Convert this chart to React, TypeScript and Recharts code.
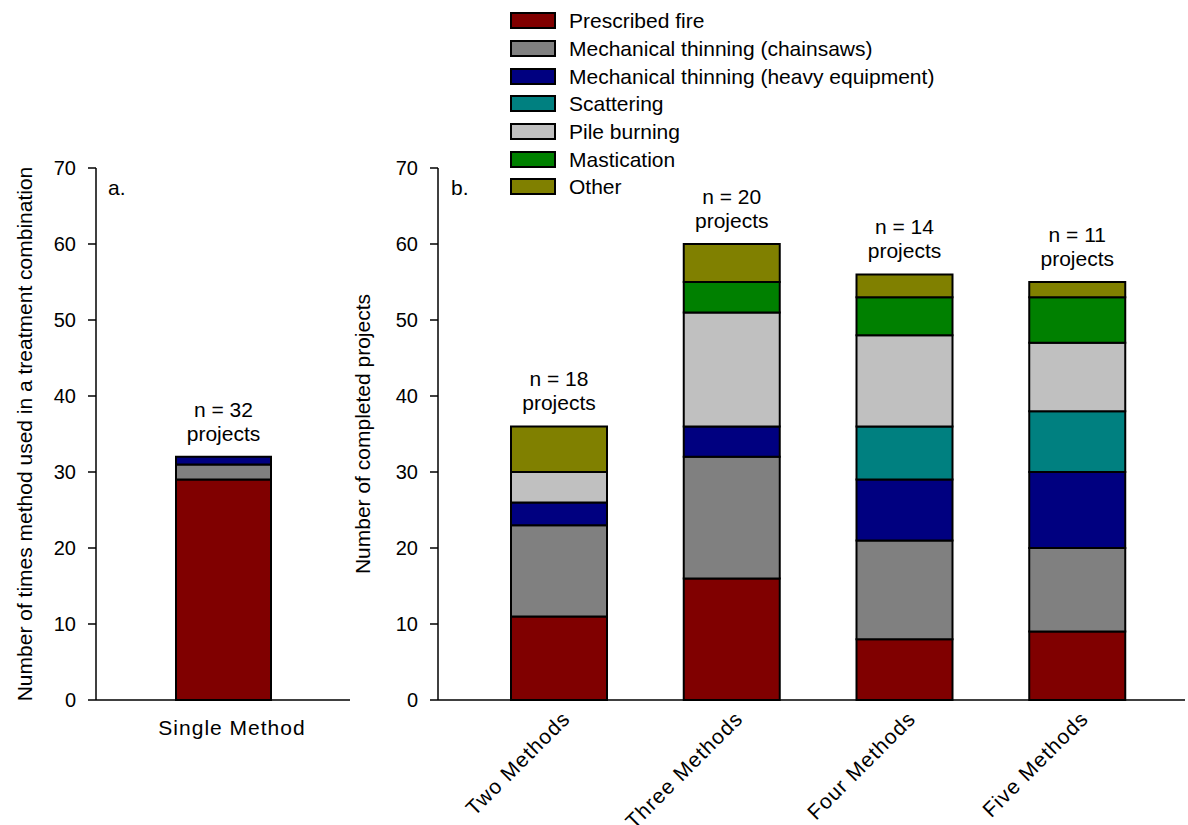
import React from 'react';
import { BarChart, Bar, XAxis, YAxis, LabelList, Label, Legend } from 'recharts';

// Treatment methods, bottom-to-top stacking order
const methodKeys = ['fire', 'chainsaws', 'heavy', 'scattering', 'pile', 'mastication', 'other'];
const methodNames = [
  'Prescribed fire',
  'Mechanical thinning (chainsaws)',
  'Mechanical thinning (heavy equipment)',
  'Scattering',
  'Pile burning',
  'Mastication',
  'Other',
];
const methodColors = ['#800000', '#808080', '#000080', '#008080', '#C0C0C0', '#008000', '#808000'];

// Panel a: projects using a single method
const singleCategories = ['Single Method'];
const singleFire = [29];
const singleChainsaws = [2];
const singleHeavy = [1];
const singleProjects = [32];

// Panel b: projects combining several methods
const comboCategories = ['Two Methods', 'Three Methods', 'Four Methods', 'Five Methods'];
const comboFire = [11, 16, 8, 9];
const comboChainsaws = [12, 16, 13, 11];
const comboHeavy = [3, 4, 8, 10];
const comboScattering = [0, 0, 7, 8];
const comboPile = [4, 15, 12, 9];
const comboMastication = [0, 4, 5, 6];
const comboOther = [6, 5, 3, 2];
const comboProjects = [18, 20, 14, 11];

const yTicks = [0, 10, 20, 30, 40, 50, 60, 70];

const FONT = '"Liberation Sans", Arial, sans-serif';
const W = 1188;
const H = 825;

const singleData = singleCategories.map((group, i) => ({
  group,
  fire: singleFire[i],
  chainsaws: singleChainsaws[i],
  heavy: singleHeavy[i],
  n: singleProjects[i],
}));

const comboData = comboCategories.map((group, i) => ({
  group,
  fire: comboFire[i],
  chainsaws: comboChainsaws[i],
  heavy: comboHeavy[i],
  scattering: comboScattering[i],
  pile: comboPile[i],
  mastication: comboMastication[i],
  other: comboOther[i],
  n: comboProjects[i],
}));

// "n = X / projects" note above each stacked bar
const ProjectCount = (props: any) => {
  const { x, y, width, value } = props;
  const cx = Number(x) + Number(width) / 2;
  return (
    <g>
      <text x={cx} y={Number(y) - 40} textAnchor="middle" fontSize={21} fontFamily={FONT} fill="#000">
        {`n = ${value}`}
      </text>
      <text x={cx} y={Number(y) - 16} textAnchor="middle" fontSize={21} fontFamily={FONT} fill="#000">
        projects
      </text>
    </g>
  );
};

const AngledTick = (props: any) => {
  const { x, y, payload } = props;
  return (
    <g transform={`translate(${x + 12},${y + 20}) rotate(-45)`}>
      <text x={0} y={0} textAnchor="end" fontSize={21} letterSpacing={1.1} fontFamily={FONT} fill="#000">
        {payload.value}
      </text>
    </g>
  );
};

const axisTitle = (title: string, baselineX: number, letter: string, letterX: number) => (props: any) => {
  const { viewBox } = props;
  const cy = viewBox.y + viewBox.height / 2;
  return (
    <g>
      <text
        x={baselineX}
        y={cy}
        transform={`rotate(-90, ${baselineX}, ${cy})`}
        textAnchor="middle"
        fontSize={21}
        fontFamily={FONT}
        fill="#000"
      >
        {title}
      </text>
      <text x={letterX} y={viewBox.y + 27} fontSize={21} fontFamily={FONT} fill="#000">
        {letter}
      </text>
    </g>
  );
};

const MethodLegend = () => (
  <div style={{ fontFamily: FONT, fontSize: 21, color: '#000' }}>
    {methodNames.map((name, i) => (
      <div key={name} style={{ display: 'flex', alignItems: 'center', height: 27.7 }}>
        <div
          style={{
            width: 42,
            height: 13,
            background: methodColors[i],
            border: '2px solid #000',
            marginRight: 13,
            flexShrink: 0,
          }}
        />
        <span style={{ lineHeight: '21px', whiteSpace: 'nowrap' }}>{name}</span>
      </div>
    ))}
  </div>
);

const tickStyle = { fontSize: 20, fontFamily: FONT, fill: '#000' };

export default function App() {
  return (
    <div style={{ position: 'absolute', left: 0, top: 0, width: W, height: H, background: '#fff' }}>
      <div style={{ position: 'absolute', left: 0, top: 0 }}>
        <BarChart width={W} height={H} data={singleData} margin={{ top: 168, right: W - 350, bottom: 85, left: 0 }}>
          <XAxis
            dataKey="group"
            height={40}
            tickLine={false}
            tickSize={0}
            tickMargin={20}
            axisLine={{ stroke: '#000', strokeWidth: 1.5 }}
            tick={{ ...tickStyle, fontSize: 21, letterSpacing: 1, dx: 9 }}
          />
          <YAxis
            width={96}
            domain={[0, 70]}
            ticks={yTicks}
            tickSize={8}
            tickMargin={12}
            axisLine={{ stroke: '#000', strokeWidth: 1.5 }}
            tickLine={{ stroke: '#000', strokeWidth: 1.5 }}
            tick={tickStyle}
          >
            <Label
              content={axisTitle('Number of times method used in a treatment combination', 32, 'a.', 108)}
            />
          </YAxis>
          {methodKeys.slice(0, 3).map((k, i) => (
            <Bar
              key={k}
              dataKey={k}
              name={methodNames[i]}
              stackId="a"
              fill={methodColors[i]}
              stroke="#000"
              strokeWidth={2}
              barSize={95}
              isAnimationActive={false}
            >
              {i === 2 ? <LabelList dataKey="n" content={ProjectCount} /> : null}
            </Bar>
          ))}
        </BarChart>
      </div>
      <div style={{ position: 'absolute', left: 0, top: 0 }}>
        <BarChart width={W} height={H} data={comboData} margin={{ top: 168, right: 3, bottom: 15, left: 0 }}>
          <XAxis
            dataKey="group"
            height={110}
            tickLine={false}
            tickSize={0}
            tickMargin={0}
            padding={{ left: 35, right: 21 }}
            axisLine={{ stroke: '#000', strokeWidth: 1.5 }}
            tick={<AngledTick />}
            interval={0}
          />
          <YAxis
            width={438}
            domain={[0, 70]}
            ticks={yTicks}
            tickSize={8}
            tickMargin={12}
            axisLine={{ stroke: '#000', strokeWidth: 1.5 }}
            tickLine={{ stroke: '#000', strokeWidth: 1.5 }}
            tick={tickStyle}
          >
            <Label content={axisTitle('Number of completed projects', 370, 'b.', 451)} />
          </YAxis>
          <Legend
            layout="vertical"
            align="center"
            verticalAlign="middle"
            content={<MethodLegend />}
            wrapperStyle={{ position: 'absolute', left: 510, top: 7, width: 460, height: 'auto' }}
          />
          {methodKeys.map((k, i) => (
            <Bar
              key={k}
              dataKey={k}
              name={methodNames[i]}
              stackId="b"
              fill={methodColors[i]}
              stroke="#000"
              strokeWidth={2}
              barSize={96}
              isAnimationActive={false}
            >
              {i === methodKeys.length - 1 ? <LabelList dataKey="n" content={ProjectCount} /> : null}
            </Bar>
          ))}
        </BarChart>
      </div>
    </div>
  );
}
